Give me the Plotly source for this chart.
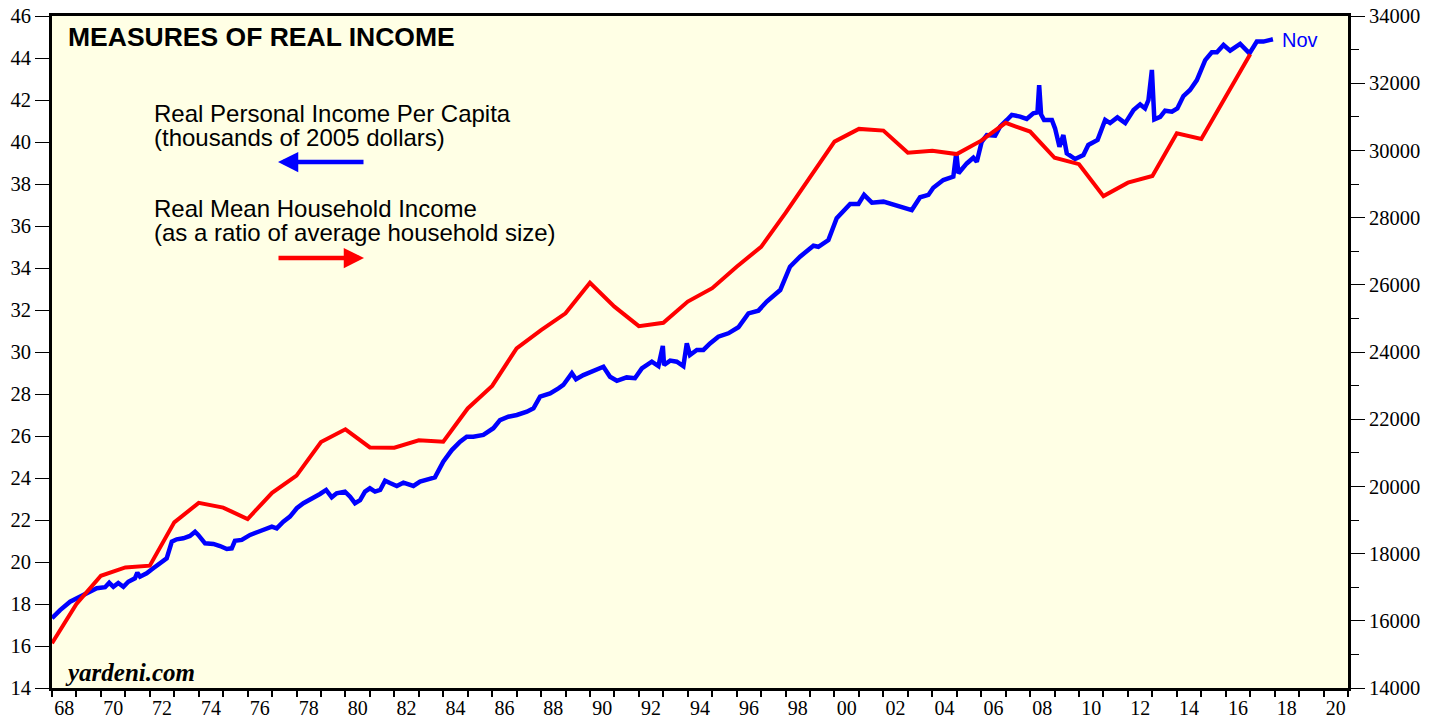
import plotly.graph_objects as go

# ---- data ----
blue_years = [1968.00, 1968.33, 1968.74, 1969.15, 1969.55, 1969.83, 1970.17, 1970.34, 1970.51, 1970.71,
              1970.92, 1971.12, 1971.39, 1971.49, 1971.60, 1971.87, 1972.14, 1972.49, 1972.69, 1972.90,
              1973.10, 1973.37, 1973.64, 1973.85, 1973.98, 1974.26, 1974.60, 1974.87, 1975.15, 1975.35,
              1975.48, 1975.76, 1976.10, 1976.44, 1976.78, 1976.99, 1977.19, 1977.46, 1977.73, 1978.01,
              1978.28, 1978.69, 1978.96, 1979.21, 1979.44, 1979.64, 1979.98, 1980.19, 1980.39, 1980.60,
              1980.80, 1981.00, 1981.21, 1981.42, 1981.62, 1981.82, 1982.10, 1982.37, 1982.78, 1983.05,
              1983.33, 1983.66, 1984.00, 1984.35, 1984.69, 1984.96, 1985.23, 1985.64, 1986.05, 1986.32,
              1986.66, 1987.01, 1987.42, 1987.69, 1987.96, 1988.37, 1988.71, 1988.91, 1989.26, 1989.43,
              1989.73, 1990.07, 1990.34, 1990.55, 1990.82, 1991.10, 1991.50, 1991.84, 1992.12, 1992.53,
              1992.80, 1992.98, 1993.03, 1993.28, 1993.55, 1993.82, 1993.96, 1994.09, 1994.37, 1994.64,
              1994.91, 1995.25, 1995.66, 1996.07, 1996.48, 1996.89, 1997.23, 1997.78, 1998.18, 1998.59,
              1999.14, 1999.34, 1999.75, 2000.09, 2000.64, 2000.98, 2001.21, 2001.53, 2002.00, 2002.41,
              2002.82, 2003.16, 2003.50, 2003.84, 2004.04, 2004.45, 2004.86, 2004.98, 2005.07, 2005.41,
              2005.68, 2005.82, 2006.02, 2006.23, 2006.57, 2006.77, 2007.05, 2007.25, 2007.59, 2007.86,
              2008.13, 2008.30, 2008.37, 2008.45, 2008.57, 2008.89, 2009.02, 2009.20, 2009.36, 2009.50,
              2009.84, 2010.18, 2010.38, 2010.76, 2011.07, 2011.27, 2011.57, 2011.89, 2012.23, 2012.50,
              2012.70, 2012.84, 2012.98, 2013.08, 2013.32, 2013.52, 2013.80, 2014.02, 2014.27, 2014.54,
              2014.82, 2015.16, 2015.43, 2015.64, 2015.91, 2016.18, 2016.59, 2016.97, 2017.27, 2017.54,
              2017.93]
blue_vals = [17.32, 17.71, 18.11, 18.35, 18.63, 18.75, 18.80, 19.01, 18.82, 19.00,
             18.82, 19.06, 19.22, 19.49, 19.30, 19.46, 19.70, 19.99, 20.17, 20.97,
             21.08, 21.13, 21.24, 21.44, 21.29, 20.89, 20.86, 20.76, 20.62, 20.65,
             21.01, 21.05, 21.29, 21.44, 21.60, 21.68, 21.60, 21.92, 22.16, 22.56,
             22.80, 23.03, 23.24, 23.43, 23.08, 23.27, 23.35, 23.11, 22.80, 22.95,
             23.35, 23.51, 23.35, 23.43, 23.87, 23.76, 23.62, 23.78, 23.62, 23.83,
             23.90, 24.03, 24.78, 25.33, 25.73, 25.97, 25.97, 26.05, 26.37, 26.76,
             26.92, 27.00, 27.16, 27.32, 27.87, 28.03, 28.27, 28.43, 28.99, 28.70,
             28.90, 29.06, 29.22, 29.30, 28.82, 28.63, 28.79, 28.75, 29.22, 29.54,
             29.33, 30.29, 29.38, 29.59, 29.54, 29.33, 30.41, 29.86, 30.10, 30.10,
             30.41, 30.73, 30.89, 31.18, 31.84, 31.97, 32.40, 32.95, 34.06, 34.54,
             35.06, 35.01, 35.33, 36.37, 37.05, 37.05, 37.48, 37.11, 37.16, 37.03,
             36.92, 36.76, 37.37, 37.48, 37.82, 38.19, 38.35, 39.49, 38.51, 38.98,
             39.25, 39.06, 40.01, 40.33, 40.30, 40.73, 41.05, 41.29, 41.21, 41.10,
             41.37, 41.41, 42.71, 41.30, 41.05, 41.05, 40.65, 39.77, 40.33, 39.46,
             39.19, 39.38, 39.86, 40.10, 41.05, 40.90, 41.17, 40.90, 41.52, 41.79,
             41.60, 42.00, 43.43, 41.08, 41.20, 41.49, 41.44, 41.60, 42.19, 42.48,
             42.95, 43.90, 44.27, 44.27, 44.62, 44.35, 44.67, 44.22, 44.78, 44.78,
             44.89]

red_years = list(range(1968, 2018))
red_vals = [15330, 16500, 17340, 17590, 17640, 18930, 19510, 19370, 19030, 19810,
            20320, 21320, 21700, 21160, 21150, 21370, 21330, 22320, 22990, 24110,
            24650, 25150, 26060, 25350, 24770, 24870, 25500, 25900, 26540, 27130,
            28140, 29210, 30260, 30640, 30590, 29930, 29990, 29890, 30290, 30820,
            30560, 29780, 29590, 28640, 29040, 29240, 30510, 30340, 31600, 32860]

x_label_years = list(range(1968, 2021, 2))
x_labels = [f"{y % 100:02d}" for y in x_label_years]
left_ticks = list(range(14, 47, 2))
right_ticks = list(range(14000, 34001, 2000))
right_labels = [str(v) for v in right_ticks]

# ---- figure ----
BLUE = "#0000FF"
RED = "#FF0000"
SERIF = "Liberation Serif"
SANS = "Liberation Sans"
L, R, T, B = 52, 93, 16, 31
W, H = 1441, 719
PW, PH = W - L - R, H - T - B

fig = go.Figure()
fig.add_trace(go.Scatter(x=red_years, y=red_vals, mode="lines", yaxis="y2",
                         line=dict(color=RED, width=4), showlegend=False, hoverinfo="skip"))
fig.add_trace(go.Scatter(x=blue_years, y=blue_vals, mode="lines", yaxis="y",
                         line=dict(color=BLUE, width=4.5), showlegend=False, hoverinfo="skip"))

fig.update_layout(
    width=W, height=H,
    margin=dict(l=L, r=R, t=T, b=B, autoexpand=False),
    paper_bgcolor="white",
    plot_bgcolor="#FFFFE5",
    xaxis=dict(
        range=[1968, 2021], showgrid=False, zeroline=False, automargin=False,
        tickmode="array", tickvals=[y + 0.5 for y in x_label_years], ticktext=x_labels,
        ticks="", tickfont=dict(family=SERIF, size=20, color="black"),
        showline=True, linecolor="black", linewidth=3, mirror=True,
        minor=dict(tickmode="array", tickvals=list(range(1968, 2022)), ticks="outside",
                   ticklen=6, tickwidth=2, tickcolor="black", showgrid=False),
    ),
    yaxis=dict(
        range=[14, 46], showgrid=False, zeroline=False, automargin=False,
        tickmode="array", tickvals=left_ticks, ticks="outside", ticklen=14, tickwidth=1,
        tickcolor="black", tickfont=dict(family=SERIF, size=20.5, color="black"),
        showline=True, linecolor="black", linewidth=3,
    ),
    yaxis2=dict(
        range=[14000, 34000], overlaying="y", side="right", showgrid=False, zeroline=False,
        automargin=False,
        tickmode="array", tickvals=right_ticks, ticktext=right_labels, ticks="outside",
        ticklen=14, tickwidth=1,
        tickcolor="black", tickfont=dict(family=SERIF, size=20.5, color="black"),
        showline=True, linecolor="black", linewidth=3,
        minor=dict(tickmode="linear", tick0=15000, dtick=2000, ticks="outside",
                   ticklen=8, tickwidth=1, tickcolor="black", showgrid=False),
    ),
)

# text annotations (paper coordinates)
def px_to_paper(px, py):
    return (px - L) / PW, (H - B - py) / PH

annos = []
tx, ty = px_to_paper(66, 37)
annos.append(dict(x=tx, y=ty, xref="paper", yref="paper", xanchor="left", yanchor="middle",
                  text="<b>MEASURES OF REAL INCOME</b>", showarrow=False,
                  font=dict(family=SANS, size=26.5, color="black")))
for text, py in [("Real Personal Income Per Capita", 113),
                 ("(thousands of 2005 dollars)", 137),
                 ("Real Mean Household Income", 208),
                 ("(as a ratio of average household size)", 233)]:
    tx, ty = px_to_paper(152, py)
    annos.append(dict(x=tx, y=ty, xref="paper", yref="paper", xanchor="left", yanchor="middle",
                      text=text, showarrow=False, font=dict(family=SANS, size=24, color="black")))

# arrows
hx, hy = px_to_paper(278, 162)
annos.append(dict(x=hx, y=hy, xref="paper", yref="paper", ax=87, ay=0, text="", showarrow=True,
                  arrowhead=2, arrowsize=0.9, arrowwidth=4.5, arrowcolor=BLUE))
hx, hy = px_to_paper(364, 258)
annos.append(dict(x=hx, y=hy, xref="paper", yref="paper", ax=-87, ay=0, text="", showarrow=True,
                  arrowhead=2, arrowsize=0.9, arrowwidth=4.5, arrowcolor=RED))

# Nov label
tx, ty = px_to_paper(1280, 40)
annos.append(dict(x=tx, y=ty, xref="paper", yref="paper", xanchor="left", yanchor="middle",
                  text="Nov", showarrow=False, font=dict(family=SANS, size=20, color=BLUE)))

# watermark
tx, ty = px_to_paper(63, 672)
annos.append(dict(x=tx, y=ty, xref="paper", yref="paper", xanchor="left", yanchor="middle",
                  text="<b><i>yardeni.com</i></b>", showarrow=False,
                  font=dict(family=SERIF, size=25, color="black")))

fig.update_layout(annotations=annos)
fig.write_html("out.html", config={"displayModeBar": False},
               post_script="document.body.style.margin='0px';document.body.style.overflow='hidden';")
